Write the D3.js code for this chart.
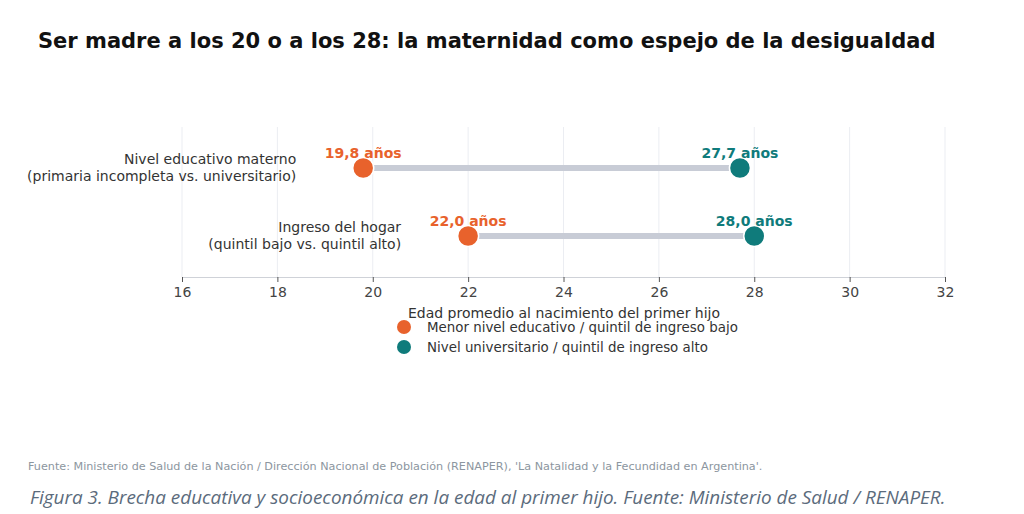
<!DOCTYPE html>
<html>
<head>
<meta charset="utf-8">
<script src="https://cdn.jsdelivr.net/npm/d3@7"></script>
<style>
  body { margin: 0; background: #fff; }
  svg text { font-family: "DejaVu Sans", sans-serif; }
</style>
</head>
<body>
<div id="chart"></div>
<script>
// data
var categories = [
    ['Nivel educativo materno', '(primaria incompleta vs. universitario)'],
    ['Ingreso del hogar', '(quintil bajo vs. quintil alto)']
];
var lowValues = [19.8, 22.0];
var highValues = [27.7, 28.0];
var xTicks = [16, 18, 20, 22, 24, 26, 28, 30, 32];
var seriesNames = ['Menor nivel educativo / quintil de ingreso bajo', 'Nivel universitario / quintil de ingreso alto'];

var W = 1024, H = 514;
var lowColor = '#e8622c', highColor = '#0f7b7b';

var svg = d3.select('#chart').append('svg')
    .attr('width', W)
    .attr('height', H);

var x = d3.scaleLinear().domain([16, 32]).range([182, 945]);
var y = d3.scalePoint().domain(d3.range(categories.length)).range([168, 236]);

// title
svg.append('text')
    .attr('x', 38).attr('y', 48)
    .style('font-size', '21px')
    .style('font-weight', 'bold')
    .style('fill', '#111')
    .text('Ser madre a los 20 o a los 28: la maternidad como espejo de la desigualdad');

// grid
svg.append('g').selectAll('line')
    .data(xTicks)
    .join('line')
    .attr('x1', d => x(d)).attr('x2', d => x(d))
    .attr('y1', 127).attr('y2', 277)
    .style('stroke', '#ebedf2')
    .style('stroke-width', 1);

// axis
var xAxis = d3.axisBottom(x).tickValues(xTicks).tickSize(5).tickPadding(5);
var gx = svg.append('g').attr('transform', 'translate(0,277)').call(xAxis);
gx.select('.domain').style('stroke', '#cfd2d8');
gx.selectAll('.tick line').style('stroke', '#555');
gx.selectAll('.tick text')
    .style('font-family', '"DejaVu Sans", sans-serif')
    .style('font-size', '14px')
    .style('fill', '#444');

svg.append('text')
    .attr('x', 564).attr('y', 318)
    .attr('text-anchor', 'middle')
    .style('font-size', '14px')
    .style('fill', '#333')
    .text('Edad promedio al nacimiento del primer hijo');

// connectors
svg.append('g').selectAll('line')
    .data(lowValues)
    .join('line')
    .attr('x1', (d, i) => x(d)).attr('x2', (d, i) => x(highValues[i]))
    .attr('y1', (d, i) => y(i)).attr('y2', (d, i) => y(i))
    .style('stroke', '#c8ccd6')
    .style('stroke-width', 6);

// category labels next to the low dot
categories.forEach(function(c, i) {
    var t = svg.append('text')
        .attr('text-anchor', 'end')
        .attr('x', x(lowValues[i]) - 67)
        .attr('y', y(i) - 4)
        .style('font-size', '14px')
        .style('fill', '#333');
    t.append('tspan').attr('x', x(lowValues[i]) - 67).attr('dy', 0).text(c[0]);
    t.append('tspan').attr('x', x(lowValues[i]) - 67).attr('dy', 17).text(c[1]);
});

var fmt = v => d3.format('.1f')(v).replace('.', ',') + ' años';

// dots + value labels
[[lowValues, lowColor], [highValues, highColor]].forEach(function(s) {
    svg.append('g').selectAll('circle')
        .data(s[0])
        .join('circle')
        .attr('cx', d => x(d))
        .attr('cy', (d, i) => y(i))
        .attr('r', 10.5)
        .style('fill', s[1])
        .style('stroke', '#fff')
        .style('stroke-width', 1.5);
    svg.append('g').selectAll('text')
        .data(s[0])
        .join('text')
        .attr('x', d => x(d))
        .attr('y', (d, i) => y(i) - 10)
        .attr('text-anchor', 'middle')
        .style('font-size', '14px')
        .style('font-weight', 'bold')
        .style('fill', s[1])
        .text(d => fmt(d));
});

// legend
var legend = svg.append('g').attr('transform', 'translate(404,327)');
seriesNames.forEach(function(n, i) {
    legend.append('circle')
        .attr('cx', 0).attr('cy', i * 20)
        .attr('r', 7)
        .style('fill', i == 0 ? lowColor : highColor);
    legend.append('text')
        .attr('x', 23).attr('y', i * 20 + 5)
        .style('font-size', '13.4px')
        .style('fill', '#333')
        .text(n);
});

// source + caption
svg.append('text')
    .attr('x', 28).attr('y', 470)
    .style('font-size', '11.2px')
    .style('fill', '#8c96a0')
    .text("Fuente: Ministerio de Salud de la Nación / Dirección Nacional de Población (RENAPER), 'La Natalidad y la Fecundidad en Argentina'.");

svg.append('text')
    .attr('x', 30).attr('y', 504)
    .style('font-family', '"Open Sans", sans-serif')
    .style('font-style', 'italic')
    .style('font-size', '18.9px')
    .style('fill', '#5b6b7c')
    .text('Figura 3. Brecha educativa y socioeconómica en la edad al primer hijo. Fuente: Ministerio de Salud / RENAPER.');
</script>
</body>
</html>
